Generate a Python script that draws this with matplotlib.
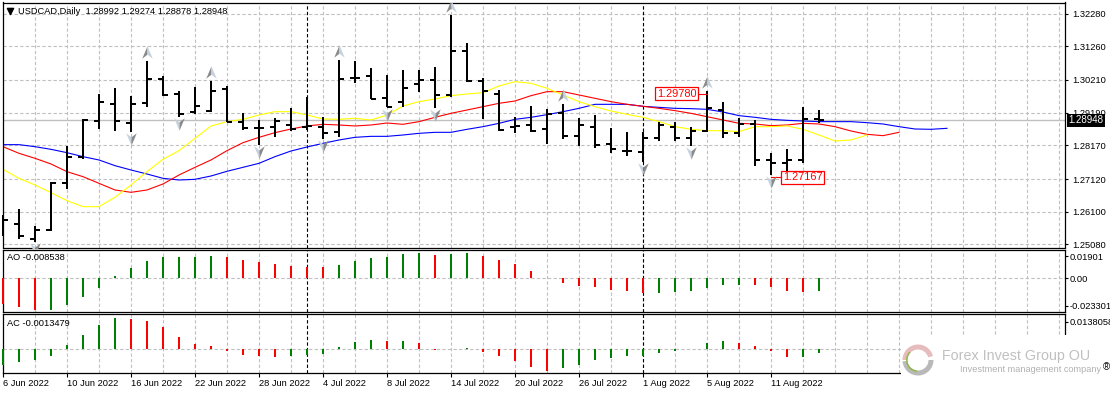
import matplotlib
matplotlib.use('Agg')
from matplotlib import pyplot as plt
from matplotlib.path import Path
from matplotlib.patches import Rectangle, Wedge

# bar data, one entry per trading day from 6 Jun 2022
highs = [1.25999, 1.26176, 1.25657, 1.27038, 1.28150, 1.29002, 1.29771, 1.29958, 1.29709, 1.30800,
         1.30332, 1.29854, 1.29979, 1.30176, 1.30020, 1.29168, 1.28961, 1.29013, 1.29324, 1.29667,
         1.29054, 1.30831, 1.30789, 1.30571, 1.30363, 1.30519, 1.30519, 1.30602, 1.32233, 1.31350,
         1.30259, 1.29896, 1.29064, 1.29397, 1.29293, 1.29449, 1.29023, 1.29116, 1.28701, 1.28587,
         1.28576, 1.28898, 1.28909, 1.28753, 1.29850, 1.29522, 1.29013, 1.28961, 1.27922, 1.28057,
         1.29366, 1.29274]
lows = [1.25345, 1.25241, 1.25168, 1.25501, 1.26820, 1.27735, 1.28670, 1.28628, 1.28597, 1.29376,
        1.29719, 1.29064, 1.29148, 1.29220, 1.28888, 1.28639, 1.28192, 1.28441, 1.28607, 1.28649,
        1.28379, 1.28441, 1.30124, 1.29615, 1.29355, 1.29376, 1.29844, 1.29345, 1.29688, 1.30135,
        1.28981, 1.28628, 1.28545, 1.28597, 1.28213, 1.28358, 1.28161, 1.28077, 1.27942, 1.27849,
        1.27662, 1.28316, 1.28316, 1.28161, 1.28597, 1.28389, 1.28420, 1.27516, 1.27257, 1.27371,
        1.27631, 1.28878]
opens = [1.25700, 1.25729, 1.25262, 1.25522, 1.27007, 1.27818, 1.28940, 1.29470, 1.28877, 1.29480,
         1.30228, 1.29771, 1.29220, 1.29252, 1.29916, 1.28909, 1.28722, 1.28753, 1.28805, 1.28732,
         1.28732, 1.28576, 1.30280, 1.30332, 1.29657, 1.29511, 1.30072, 1.30207, 1.29740, 1.31122,
         1.30166, 1.29771, 1.28753, 1.28815, 1.28690, 1.29189, 1.28472, 1.28742, 1.28223, 1.27984,
         1.27974, 1.28410, 1.28753, 1.28400, 1.28628, 1.29262, 1.28566, 1.28836, 1.27714, 1.27631,
         1.27703, 1.28992]
closes = [1.25833, 1.25345, 1.25532, 1.27007, 1.27818, 1.28961, 1.29532, 1.28940, 1.29459, 1.30249,
          1.29740, 1.29148, 1.29407, 1.29854, 1.28909, 1.28722, 1.28722, 1.28919, 1.28670, 1.28784,
          1.28566, 1.30249, 1.30280, 1.29615, 1.29376, 1.29968, 1.30197, 1.29740, 1.31122, 1.30166,
          1.29854, 1.28649, 1.28774, 1.28628, 1.29137, 1.28462, 1.28805, 1.28181, 1.28057, 1.27984,
          1.28389, 1.28794, 1.28410, 1.28618, 1.29345, 1.28545, 1.28826, 1.27714, 1.27631, 1.27703,
          1.29002, 1.28948]

# alligator lines, they run on past the last bar
jaw = [1.28192, 1.28192, 1.28129, 1.28046, 1.27942, 1.27818, 1.27714, 1.27537, 1.27402, 1.27277,
       1.27142, 1.27090, 1.27111, 1.27215, 1.27361, 1.27485, 1.27610, 1.27818, 1.27994, 1.28119,
       1.28233, 1.28337, 1.28420, 1.28451, 1.28451, 1.28493, 1.28545, 1.28576, 1.28576, 1.28670,
       1.28753, 1.28857, 1.28981, 1.29044, 1.29127, 1.29220, 1.29324, 1.29449, 1.29449, 1.29449,
       1.29387, 1.29355, 1.29324, 1.29314, 1.29293, 1.29210, 1.29096, 1.29044, 1.28981, 1.28950,
       1.28929, 1.28909, 1.28909, 1.28909, 1.28877, 1.28836, 1.28753, 1.28680, 1.28670, 1.28701]
teeth = [1.28129, 1.27922, 1.27766, 1.27589, 1.27350, 1.27194, 1.26986, 1.26779, 1.26706, 1.26779,
         1.26966, 1.27246, 1.27485, 1.27714, 1.28005, 1.28254, 1.28420, 1.28566, 1.28680, 1.28774,
         1.28826, 1.28805, 1.28774, 1.28805, 1.28867, 1.28826, 1.28909, 1.29044, 1.29168, 1.29272,
         1.29376, 1.29480, 1.29553, 1.29719, 1.29844, 1.29844, 1.29740, 1.29636, 1.29532, 1.29449,
         1.29387, 1.29324, 1.29252, 1.29168, 1.29064, 1.28961, 1.28857, 1.28836, 1.28784, 1.28805,
         1.28857, 1.28836, 1.28753, 1.28618, 1.28514, 1.28472, 1.28576]
lips = [1.27423, 1.27142, 1.26935, 1.26696, 1.26446, 1.26259, 1.26259, 1.26550, 1.26935, 1.27350,
        1.27735, 1.28005, 1.28389, 1.28774, 1.28909, 1.28981, 1.29116, 1.29220, 1.29220, 1.29116,
        1.28992, 1.28981, 1.29013, 1.28961, 1.29116, 1.29397, 1.29532, 1.29615, 1.29719, 1.29771,
        1.29813, 1.30020, 1.30155, 1.30103, 1.29948, 1.29740, 1.29532, 1.29376, 1.29241, 1.29137,
        1.29044, 1.28909, 1.28753, 1.28670, 1.28628, 1.28628, 1.28597, 1.28753, 1.28753, 1.28774,
        1.28670, 1.28493, 1.28306, 1.28337, 1.28493]

# fractal arrows, bar numbers
fractal_up = [9, 13, 21, 28, 35, 44]
fractal_down = [2, 8, 11, 16, 20, 24, 27, 40, 43, 48]

ao = [-.0223, -.0249, -.0275, -.0272, -.0232, -.0163, -.0086, .0017, .0089, .0149,
      .0183, .0183, .0183, .0192, .0183, .0157, .0140, .0123, .0106, .0097,
      .0097, .0114, .0149, .0174, .0183, .0209, .0217, .0200, .0209, .0217,
      .0192, .0157, .0123, .0063, .0003, -.0040, -.0069, -.0077, -.0103, -.0112,
      -.0129, -.0129, -.0120, -.0112, -.0086, -.0060, -.0060, -.0060, -.0077, -.0112,
      -.0120, -.0112]
ao_colors = 'rrr' 'ggggggggggg' 'rrrrrrr' 'gggggg' 'r' 'gg' 'rrrrrrrrrrr' 'gggggg' 'rrrr' 'g'
ac = [-.0076, -.0061, -.0051, -.0032, .0020, .0070, .0120, .0154, .0149, .0139,
      .0110, .0060, .0025, .0015, -.0008, -.0027, -.0033, -.0037, -.0032, -.0027,
      -.0022, .0010, .0035, .0045, .0040, .0040, .0030, -.0005, .0003, .0005,
      -.0013, -.0033, -.0058, -.0088, -.0108, -.0093, -.0078, -.0053, -.0045, -.0033,
      -.0033, -.0017, -.0007, .0003, .0030, .0040, .0030, .0015, -.0007, -.0037,
      -.0037, -.0017]
ac_colors = 'gggggggg' 'rrrrrrrrrr' 'gggggg' 'r' 'g' 'rr' 'gg' 'rrrrr' 'ggggggggggg' 'rrrr' 'gg'

price_ticks = [1.32280, 1.31260, 1.30210, 1.29190, 1.28170, 1.27120, 1.26100, 1.25080]
ao_ticks = [0.01901, 0.0, -0.023301]
ao_tick_labels = ['0.01901', '0.00', '-0.023301']
ac_ticks = [0.0138058]
date_labels = ['6 Jun 2022', '10 Jun 2022', '16 Jun 2022', '22 Jun 2022', '28 Jun 2022',
               '4 Jul 2022', '8 Jul 2022', '14 Jul 2022', '20 Jul 2022', '26 Jul 2022',
               '1 Aug 2022', '5 Aug 2022', '11 Aug 2022']
month_starts = [19, 40]
last_price = 1.28948

plt.rcParams['font.family'] = ['Liberation Sans', 'DejaVu Sans']
font_size = 6.7
GREY = '#c0c0c0'
DASH = (0, (3, 2))
COLORS = {'r': '#ff0000', 'g': '#008000'}
W, H = 1110, 394
BAR_PX = 16.0
X0_PX = 3.0


def panel(top, bottom, left=2.5, right=1064.5):
    ax = fig.add_axes([left / W, 1 - bottom / H, (right - left) / W, (bottom - top) / H])
    ax.set_xlim((left - X0_PX) / BAR_PX, (right - X0_PX) / BAR_PX)
    ax.set_facecolor('white')
    for side in ax.spines.values():
        side.set_linewidth(0.9)
        side.set_color('black')
    ax.yaxis.tick_right()
    ax.tick_params(axis='y', length=2, width=0.8, labelsize=font_size, pad=1.5)
    ax.tick_params(axis='x', length=0)
    ax.set_xticks([])
    for i in range(2, 68, 2):
        ax.axvline(i, color=GREY, lw=0.8, ls=DASH, zorder=1)
    for i in month_starts:
        ax.axvline(i, color='black', lw=0.8, ls=DASH, zorder=1.5)
    return ax


fig = plt.figure(figsize=(W / 100, H / 100), dpi=100)

# main price panel
ax1 = panel(2.5, 247.5)
ax1.set_ylim(1.24986, 1.32623)
ax1.set_yticks(price_ticks)
ax1.set_yticklabels(['%.5f' % p for p in price_ticks])
ax1.tick_params(axis='y', pad=3.5)
for p in price_ticks:
    ax1.axhline(p, color=GREY, lw=0.8, ls=DASH, zorder=1)
ax1.axhline(last_price, color=GREY, lw=1, zorder=1.2)

x = list(range(len(highs)))
ax1.plot(range(len(jaw)), jaw, color='#0000ff', lw=0.8, zorder=2)
ax1.plot(range(len(teeth)), teeth, color='#ff0000', lw=0.8, zorder=2.1)
ax1.plot(range(len(lips)), lips, color='#ffff00', lw=0.8, zorder=2.2)

# first bar sits right on the left border, so no clipping on the stems
ax1.vlines(x, lows, highs, color='black', lw=1.44, zorder=3, clip_on=False)
ax1.hlines(opens, [i - 0.31 for i in x], x, color='black', lw=1.44, zorder=3)
ax1.hlines(closes, x, [i + 0.31 for i in x], color='black', lw=1.44, zorder=3)

# fractal arrows, dark on the left half and pale on the right
up_left = Path([(0, 1), (0, -0.35), (-0.85, -1), (0, 1)])
up_right = Path([(0, 1), (0.85, -1), (0, -0.35), (0, 1)])
down_left = Path([(0, -1), (0, 0.35), (-0.85, 1), (0, -1)])
down_right = Path([(0, -1), (0.85, 1), (0, 0.35), (0, -1)])
up_y = [highs[i] + 0.0029 for i in fractal_up]
down_y = [lows[i] - 0.0024 for i in fractal_down]
ax1.scatter(fractal_up, up_y, marker=up_left, s=80, color='#8a8a8a', linewidth=0, zorder=4)
ax1.scatter(fractal_up, up_y, marker=up_right, s=80, color='#c6d2de', linewidth=0, zorder=4)
ax1.scatter(fractal_down, down_y, marker=down_left, s=80, color='#c6d2de', linewidth=0, zorder=4)
ax1.scatter(fractal_down, down_y, marker=down_right, s=80, color='#8a8a8a', linewidth=0, zorder=4)

# high and low callouts
box = dict(boxstyle='square,pad=0.12', facecolor='white', edgecolor='#ff0000', linewidth=0.9)
ax1.plot([44, 42.1], [1.29781, 1.29781], color='#ff0000', lw=0.8, zorder=3.5)
ax1.text(42.1, 1.29781, '1.29780', color='#ff0000', fontsize=7.9, ha='center', va='center', bbox=box, zorder=5)
ax1.plot([48, 49.9], [1.27174, 1.27174], color='#ff0000', lw=0.8, zorder=3.5)
ax1.text(49.97, 1.27174, '1.27167', color='#ff0000', fontsize=7.9, ha='center', va='center', bbox=box, zorder=5)

# current price tag
ax1.text(1.0035, last_price, '%.5f' % last_price, color='white', fontsize=7, ha='left', va='center',
         transform=ax1.get_yaxis_transform(), zorder=6,
         bbox=dict(boxstyle='square,pad=0.16', facecolor='black', edgecolor='black', linewidth=0))

# AO panel
ax2 = panel(249.5, 311.7)
ax2.set_ylim(-0.0286, 0.0246)
ax2.set_yticks(ao_ticks)
ax2.set_yticklabels(ao_tick_labels)
ax2.axhline(0, color=GREY, lw=0.8, ls=DASH, zorder=1)
ao_bars = ax2.bar(range(len(ao)), ao, width=0.14, color=[COLORS[c] for c in ao_colors], zorder=3)
ao_bars[0].set_clip_on(False)
ax2.text(0.0045, 0.865, 'AO -0.008538', transform=ax2.transAxes, fontsize=font_size, va='center', zorder=5)

# AC panel
ax3 = panel(314, 373)
ax3.set_ylim(-0.0118, 0.0176)
ax3.set_yticks(ac_ticks)
ax3.set_yticklabels(['0.0138058'])
ax3.axhline(0, color=GREY, lw=0.8, ls=DASH, zorder=1)
ac_bars = ax3.bar(range(len(ac)), ac, width=0.14, color=[COLORS[c] for c in ac_colors], zorder=3)
ac_bars[0].set_clip_on(False)
ax3.text(0.0045, 0.845, 'AC -0.0013479', transform=ax3.transAxes, fontsize=font_size, va='center', zorder=5)
ax3.set_xticks(range(0, 4 * len(date_labels), 4))
ax3.set_xticklabels(date_labels, ha='left', fontsize=font_size)
ax3.tick_params(axis='x', length=3, width=0.8, pad=1.5)

# overlay in pixels for the title and the watermark
top = fig.add_axes([0, 0, 1, 1], zorder=10)
top.set_xlim(0, W)
top.set_ylim(H, 0)
top.axis('off')
top.text(18.5, 11, 'USDCAD,Daily  1.28992 1.29274 1.28878 1.28948', fontsize=font_size, va='center')
top.scatter([10], [11], marker='v', s=20, color='black')

top.add_patch(Rectangle((900.5, 335), 210, 60, facecolor='white', edgecolor='none'))
top.add_patch(Wedge((918, 360), 15.5, 180, 345, width=5, facecolor='#e6bcbc', edgecolor='none'))
top.add_patch(Wedge((918, 360), 15.5, 0, 175, width=5, facecolor='#b9b9b9', edgecolor='none'))
top.add_patch(Wedge((918, 360), 12, 95, 225, width=1.5, facecolor='#8fb84a', edgecolor='none'))
top.text(942, 356, 'Forex Invest Group OU', color='#c0c0c0', fontsize=10.3, va='center')
top.text(960, 369, 'Investment management company', color='#b0b0b0', fontsize=6.6, va='center')
top.text(1103, 367, '\u00ae', color='black', fontsize=7, va='center')

fig.savefig('out.png', dpi=100)
